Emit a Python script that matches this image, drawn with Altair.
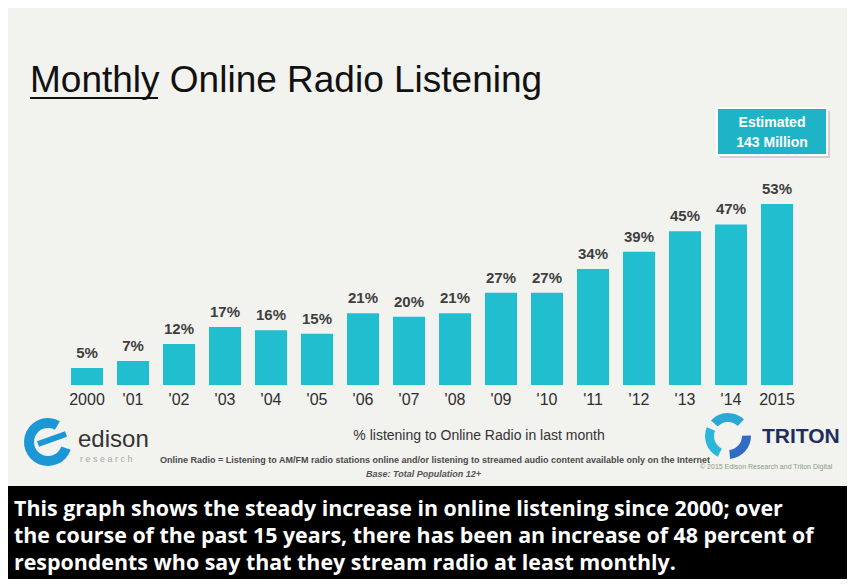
import altair as alt
import pandas as pd

# ---- data ----
categories = ["2000", "'01", "'02", "'03", "'04", "'05", "'06", "'07", "'08",
              "'09", "'10", "'11", "'12", "'13", "'14", "2015"]
values = [5, 7, 12, 17, 16, 15, 21, 20, 21, 27, 27, 34, 39, 45, 47, 53]
value_labels = [f"{v}%" for v in values]

title_text = "Monthly Online Radio Listening"
box_lines = ["Estimated", "143 Million"]
x_title = "% listening to Online Radio in last month"
footnote = ("Online Radio = Listening to AM/FM radio stations online and/or listening "
            "to streamed audio content available only on the Internet")
base_note = "Base: Total Population 12+"
copyright_note = "\u00a9 2015 Edison Research and Triton Digital"
caption_lines = [
    "This graph shows the steady increase in online listening since 2000; over",
    "the course of the past 15 years, there has been an increase of 48 percent of",
    "respondents who say that they stream radio at least monthly.",
]

W, H = 839, 571
BAR = "#21bed0"
FONT = "Liberation Sans"

df = pd.DataFrame({"cat": categories, "value": values, "label": value_labels})
one = pd.DataFrame({"k": [0]})

xs = alt.X("cat:N", sort=categories, axis=None,
           scale=alt.Scale(domain=categories, range=[56, 792],
                           paddingInner=0.304, paddingOuter=0.152))
ys = alt.Y("value:Q", axis=None,
           scale=alt.Scale(domain=[0, 53], range=[377, 196], nice=False, zero=True))

base = alt.Chart(df)

bars = base.mark_bar(color=BAR).encode(x=xs, y=ys)
vlabels = base.mark_text(font=FONT, fontSize=15, fontWeight="bold", color="#3e3e3e",
                         baseline="bottom", dy=-7).encode(x=xs, y=ys, text="label:N")
xlabels = base.mark_text(font=FONT, fontSize=16, color="#2e2e2e",
                         baseline="middle").encode(x=xs, y=alt.value(392), text="cat:N")

def txt(t, x, y, **kw):
    return alt.Chart(one).mark_text(text=t, **kw).encode(x=alt.value(x), y=alt.value(y))

def rect(x, x2, y, y2, **kw):
    return alt.Chart(one).mark_rect(**kw).encode(
        x=alt.value(x), x2=alt.value(x2), y=alt.value(y), y2=alt.value(y2))

band = rect(0, W, 478, H, color="#000000")

title = txt(title_text, 22, 84, font=FONT, fontSize=37, color="#111111",
            align="left", baseline="alphabetic")
underline = alt.Chart(one).mark_rule(color="#111111", strokeWidth=2).encode(
    x=alt.value(22), x2=alt.value(150), y=alt.value(90))

box_shadow = rect(712, 822, 103, 150, color="#d0d0cc")
box = rect(709, 819, 100, 147, color="#1fb3c8", stroke="#ffffff", strokeWidth=2)
box_t1 = txt(box_lines[0], 764, 115, font=FONT, fontSize=14, fontWeight="bold",
             color="#ffffff", align="center", baseline="middle")
box_t2 = txt(box_lines[1], 764, 135, font=FONT, fontSize=14, fontWeight="bold",
             color="#ffffff", align="center", baseline="middle")

# edison logo
ed_arc = alt.Chart(one).mark_arc(theta=1.9, theta2=6.8, innerRadius=14, outerRadius=24,
                                 color="#1c97d6").encode(x=alt.value(40), y=alt.value(434))
ed_bar = alt.Chart(one).mark_rule(color="#1c97d6", strokeWidth=6).encode(
    x=alt.value(30), x2=alt.value(58), y=alt.value(436), y2=alt.value(426))
ed_text = txt("edison", 70, 439, font=FONT, fontSize=24, color="#333333",
              align="left", baseline="alphabetic")
ed_sub = txt("r e s e a r c h", 72, 451, font=FONT, fontSize=9, color="#a8a8a8",
             align="left", baseline="middle")

# triton logo
tr_arcs = []
for t0, t1, c in [(5.45, 7.05, "#2aa9d4"), (1.55, 3.05, "#2f6cc6"), (3.6, 5.1, "#27b8dc")]:
    tr_arcs.append(alt.Chart(one).mark_arc(theta=t0, theta2=t1, innerRadius=14,
                                           outerRadius=23, color=c).encode(
        x=alt.value(720), y=alt.value(428)))
tr_text = txt("TRITON", 754, 429, font=FONT, fontSize=21, fontWeight="bold",
              color="#1f2d5c", align="left", baseline="middle")

sub = txt(x_title, 471, 428, font=FONT, fontSize=14, color="#333333",
          align="center", baseline="middle")
foot = txt(footnote, 427, 452, font=FONT, fontSize=9, fontWeight="bold",
           color="#4a4a4a", align="center", baseline="middle")
basen = txt(base_note, 358, 466, font=FONT, fontSize=9, fontStyle="italic",
            fontWeight="bold", color="#555555", align="left", baseline="middle")
copy = txt(copyright_note, 692, 459, font=FONT, fontSize=7, color="#8d9b84",
           align="left", baseline="middle")

caps = [txt(line, 6, 502 + 27 * i, font="Open Sans", fontSize=21.4, fontWeight="bold",
            color="#ffffff", align="left", baseline="middle")
        for i, line in enumerate(caption_lines)]

chart = alt.layer(
    band, bars, vlabels, xlabels, title, underline, box_shadow, box, box_t1, box_t2,
    ed_arc, ed_bar, ed_text, ed_sub, *tr_arcs, tr_text, sub, foot, basen, copy, *caps
).properties(
    width=W, height=H, padding=0,
    autosize=alt.AutoSizeParams(type="none"),
    background="#f2f2ef",
).configure_view(stroke=None)

chart.save("out.html", embed_options={"renderer": "svg", "actions": False})
